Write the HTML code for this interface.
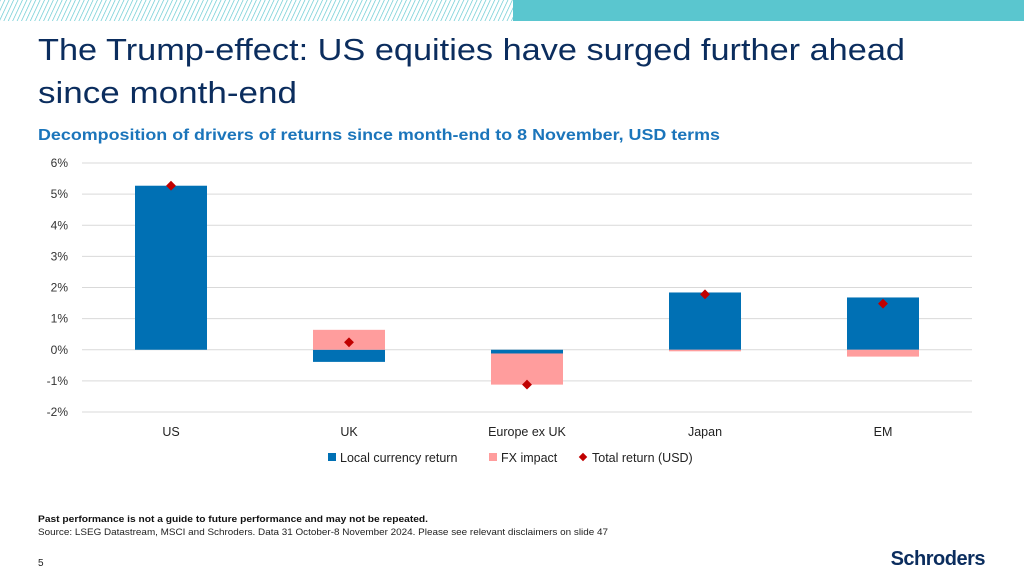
<!DOCTYPE html>
<html><head><meta charset="utf-8"><style>
body{margin:0;width:1024px;height:576px;overflow:hidden;background:#fff;font-family:"Liberation Sans",sans-serif}
</style></head><body>
<svg id="chart" width="1024" height="576" viewBox="0 0 1024 576" xmlns="http://www.w3.org/2000/svg">
<defs><pattern id="hatch" width="4" height="4" patternUnits="userSpaceOnUse" patternTransform="rotate(25)"><rect width="4" height="4" fill="#fff"/><line x1="0" y1="0" x2="0" y2="4" stroke="#5ac6cf" stroke-width="1.3"/></pattern></defs>
<rect x="0" y="0" width="513" height="21" fill="url(#hatch)"/>
<rect x="513" y="0" width="511" height="21" fill="#5ac6cf"/>
<text x="38" y="60" font-size="31" fill="#0b2d5e" textLength="867" lengthAdjust="spacingAndGlyphs">The Trump-effect: US equities have surged further ahead</text>
<text x="38" y="103" font-size="31" fill="#0b2d5e" textLength="259" lengthAdjust="spacingAndGlyphs">since month-end</text>
<text x="38" y="140" font-size="16" font-weight="bold" fill="#1b75bb" textLength="682" lengthAdjust="spacingAndGlyphs">Decomposition of drivers of returns since month-end to 8 November, USD terms</text>
<g id="grid"></g><g id="bars"></g><g id="xlabels"></g>
<g font-size="12.5" fill="#222">
<rect x="328" y="453" width="8" height="8" fill="#0070b4"/>
<text x="340" y="462">Local currency return</text>
<rect x="489" y="453" width="8" height="8" fill="#ff9d9d"/>
<text x="501" y="462">FX impact</text>
<rect x="580" y="454" width="6" height="6" fill="#c00000" transform="rotate(45 583 457)"/>
<text x="592" y="462">Total return (USD)</text>
</g>
<text x="38" y="522" font-size="9.5" font-weight="bold" fill="#111" textLength="390" lengthAdjust="spacingAndGlyphs">Past performance is not a guide to future performance and may not be repeated.</text>
<text x="38" y="535" font-size="9.5" fill="#222" textLength="570" lengthAdjust="spacingAndGlyphs">Source: LSEG Datastream, MSCI and Schroders. Data 31 October-8 November 2024. Please see relevant disclaimers on slide 47</text>
<text x="38" y="566" font-size="10" fill="#222">5</text>
<text x="985" y="565" font-size="20" font-weight="bold" fill="#0b2d5e" text-anchor="end" letter-spacing="-0.5">Schroders</text>
</svg>
<script>
const categories=["US","UK","Europe ex UK","Japan","EM"];
const localReturn=[5.27,-0.39,-0.12,1.84,1.68];
const fxImpact=[0,0.64,-1.0,-0.05,-0.22];
const totalReturn=[5.27,0.24,-1.12,1.78,1.48];
const ticks=[-2,-1,0,1,2,3,4,5,6];
const NS="http://www.w3.org/2000/svg";
const x0=82,x1=972,yTop=163,yBot=412,vmin=-2,vmax=6;
const y=v=>yBot-(v-vmin)/(vmax-vmin)*(yBot-yTop);
const bw=(x1-x0)/categories.length;
const xc=i=>x0+bw*(i+0.5);
function mk(tag,attrs,parent){const e=document.createElementNS(NS,tag);for(const k in attrs)e.setAttribute(k,attrs[k]);parent.appendChild(e);return e;}
const g=document.getElementById('grid'),b=document.getElementById('bars'),xl=document.getElementById('xlabels');
ticks.forEach(t=>{
 const l=mk('line',{x1:x0,x2:x1,y1:y(t),y2:y(t),stroke:'#d9d9d9','stroke-width':1},g);
 
 
 const tx=mk('text',{x:68,y:y(t)+4,'font-size':12,fill:'#333','text-anchor':'end'},g);
 tx.textContent=t+'%';
 
 
});
const w=72;
categories.forEach((c,i)=>{
 let pos=0,neg=0;
 [[localReturn[i],'#0070b4','bar-local'],[fxImpact[i],'#ff9d9d','bar-fx']].forEach(([v,col,nm])=>{
  if(v===0)return;
  let a,bb;
  if(v>0){a=pos;bb=pos+v;pos=bb;}else{a=neg;bb=neg+v;neg=bb;}
  const r=mk('rect',{x:xc(i)-w/2,y:y(Math.max(a,bb)),width:w,height:Math.abs(y(a)-y(bb)),fill:col},b);
  
  
 });
 const d=mk('rect',{x:xc(i)-3.5,y:y(totalReturn[i])-3.5,width:7,height:7,fill:'#c00000',transform:`rotate(45 ${xc(i)} ${y(totalReturn[i])})`},b);
 
 
 const t=mk('text',{x:xc(i),y:436,'font-size':12.5,fill:'#222','text-anchor':'middle'},xl);
 t.textContent=c;
 
 
});
</script>
</body></html>
